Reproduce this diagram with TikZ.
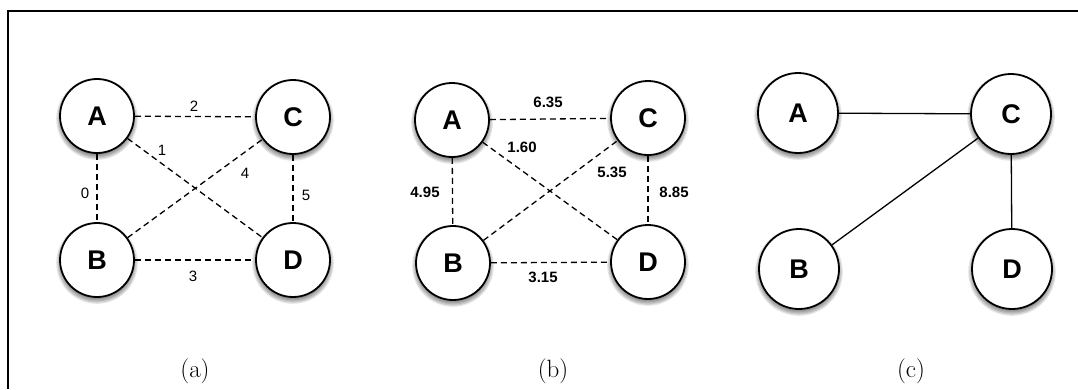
\documentclass[tikz,border=0pt]{standalone}
\usepackage{fontspec}
\newfontfamily\lsans{Liberation Sans}
\newcommand{\shd}[3]{%
  \foreach \k in {0,1,2,3,4}{\fill[black,opacity=0.1] (#1,#2+3) circle ({#3+\k*1.2});}}
\begin{document}
\begin{tikzpicture}[x=1pt,y=-1pt,
  vert/.style={circle,draw=black,line width=1.8pt,fill=white,inner sep=0pt,
    font=\lsans\bfseries\fontsize{27}{27}\selectfont},
  va/.style={vert,minimum size=74pt},
  vc/.style={vert,minimum size=80pt},
  dedge/.style={line width=1.3pt,dash pattern=on 6pt off 4pt},
  sedge/.style={line width=1.3pt},
  wlab/.style={font=\lsans\fontsize{15}{15}\selectfont,inner sep=0pt},
  wlabb/.style={font=\lsans\bfseries\fontsize{15}{15}\selectfont,inner sep=0pt},
  captext/.style={font=\fontsize{25}{25}\selectfont,inner sep=0pt},
  frame/.style={line width=1.4pt}]
\useasboundingbox (0,0) rectangle (1078,389);
\fill[white] (0,0) rectangle (1078,389);
% frame
\coordinate (f1) at (1078,11);
\coordinate (f2) at (8,11);
\coordinate (f3) at (8,389);
\draw[frame] (f1) -- (f2) -- (f3);
% shadows
\shd{97}{116}{36}\shd{293}{117}{36}\shd{97}{260}{36}\shd{293}{260}{36}
\shd{452}{120}{36}\shd{648}{118}{36}\shd{453}{263}{36}\shd{648}{262}{36}
\shd{798}{113}{39}\shd{1011}{114}{39}\shd{799}{269}{39}\shd{1012}{269}{39}
% panel (a)
\node[va] (aA) at (97,116) {A};
\node[va] (aC) at (293,117) {C};
\node[va] (aB) at (97,260) {B};
\node[va] (aD) at (293,260) {D};
\draw[dedge] (aA) -- (aC);
\draw[dedge] (aA) -- (aB);
\draw[dedge] (aA) -- (aD);
\draw[dedge] (aB) -- (aC);
\draw[dedge] (aC) -- (aD);
\draw[dedge] (aB) -- (aD);
\node[wlab] (la2) at (194,106) {2};
\node[wlab] (la1) at (162,150) {1};
\node[wlab] (la4) at (245,173) {4};
\node[wlab] (la0) at (85,193) {0};
\node[wlab] (la5) at (306,195) {5};
\node[wlab] (la3) at (193,276) {3};
\node[captext] (capa) at (195,371) {(a)};
% panel (b)
\node[va] (bA) at (452,120) {A};
\node[va] (bC) at (648,118) {C};
\node[va] (bB) at (453,263) {B};
\node[va] (bD) at (648,262) {D};
\draw[dedge] (bA) -- (bC);
\draw[dedge] (bA) -- (bB);
\draw[dedge] (bA) -- (bD);
\draw[dedge] (bB) -- (bC);
\draw[dedge] (bC) -- (bD);
\draw[dedge] (bB) -- (bD);
\node[wlabb] (lb1) at (548,102) {6.35};
\node[wlabb] (lb2) at (522,147) {1.60};
\node[wlabb] (lb3) at (612,172) {5.35};
\node[wlabb] (lb4) at (425,192) {4.95};
\node[wlabb] (lb5) at (674,192) {8.85};
\node[wlabb] (lb6) at (543,277) {3.15};
\node[captext] (capb) at (553,371) {(b)};
% panel (c)
\node[vc] (cA) at (798,113) {A};
\node[vc] (cC) at (1011,114) {C};
\node[vc] (cB) at (799,269) {B};
\node[vc] (cD) at (1012,269) {D};
\draw[sedge] (cA) -- (cC);
\draw[sedge] (cB) -- (cC);
\draw[sedge] (cC) -- (cD);
\node[captext] (capc) at (911,371) {(c)};
\end{tikzpicture}
\end{document}
